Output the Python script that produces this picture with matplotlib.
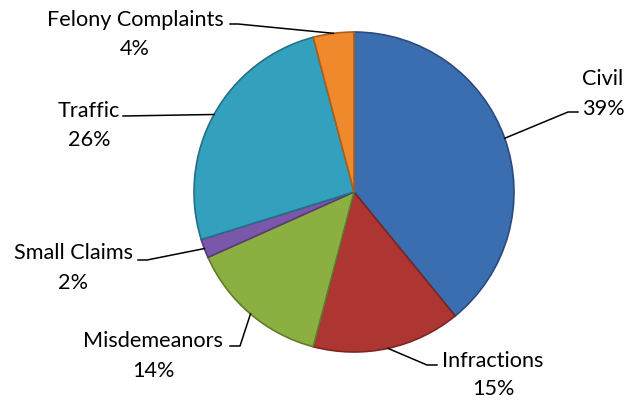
import matplotlib.pyplot as plt
import matplotlib.colors as mcolors
import numpy as np

# Case categories, clockwise from 12 o'clock
categories = ['Civil', 'Infractions', 'Misdemeanors', 'Small Claims', 'Traffic', 'Felony Complaints']
shares = [39.1, 15.0, 14.2, 1.9, 25.7, 4.1]
colors = ['#3B6DB1', '#AE3632', '#8CAF42', '#7B57AB', '#33A0BE', '#F0892B']

# label layout in pixels (top-left origin): text centre x, name baseline, percent baseline
label_pos = {
    'Civil': (603, 85, 115),
    'Infractions': (493, 367, 395),
    'Misdemeanors': (153, 347, 377),
    'Small Claims': (73, 259, 289),
    'Traffic': (89, 117, 146),
    'Felony Complaints': (135, 26, 55),
}
# leader lines: elbow point and text-side end point (pixels, top-left origin)
leaders = {
    'Civil': [(568, 113), (578, 113)],
    'Infractions': [(427, 366), (437, 366)],
    'Misdemeanors': [(240, 347), (230, 347)],
    'Small Claims': [(147, 261), (138, 261)],
    'Traffic': [(123, 117)],
    'Felony Complaints': [(238, 25), (230, 25)],
}

W, H = 628, 402
cx, cy, r = 354, 193, 160


def shade(c, f):
    rgb = np.array(mcolors.to_rgb(c))
    return tuple(rgb * f)


fig = plt.figure(figsize=(W / 100, H / 100), dpi=100)
ax = fig.add_axes([0, 0, 1, 1])

wedges, _ = ax.pie(shares, colors=colors, startangle=90, counterclock=False,
                   center=(cx, H - cy), radius=r,
                   wedgeprops=dict(linewidth=1.2))
for w, c in zip(wedges, colors):
    w.set_edgecolor(shade(c, 0.7))

ax.set_xlim(0, W)
ax.set_ylim(0, H)
ax.set_aspect('equal')
ax.axis('off')

for w, name, val in zip(wedges, categories, shares):
    mid = np.deg2rad((w.theta1 + w.theta2) / 2)
    anchor = (cx + r * np.cos(mid), H - cy + r * np.sin(mid))
    pts = [anchor] + [(x, H - y) for x, y in leaders[name]]
    ax.plot([p[0] for p in pts], [p[1] for p in pts], color='black', lw=1.1)
    tx, by1, by2 = label_pos[name]
    ax.text(tx, H - by1, name, ha='center', va='baseline', fontsize=15.6, family='Lato')
    ax.text(tx, H - by2, f'{round(val):.0f}%', ha='center', va='baseline', fontsize=15.6, family='Lato')

fig.savefig('out.png', dpi=100)
